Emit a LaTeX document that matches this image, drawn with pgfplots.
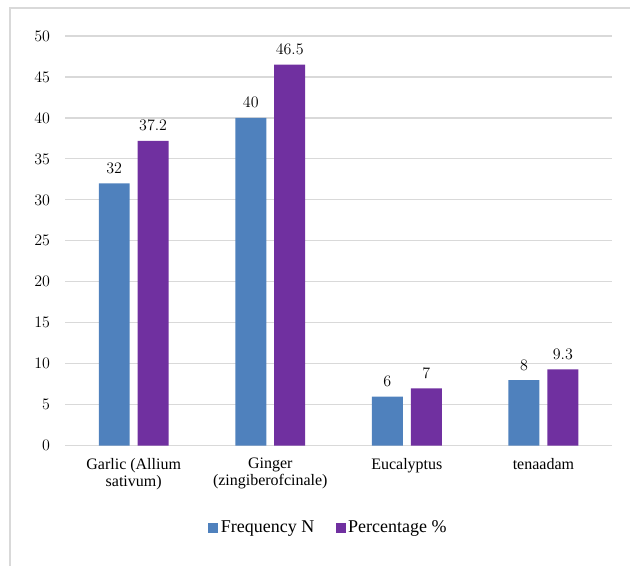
\documentclass[border=0pt]{standalone}
\usepackage{pgfplots}
\pgfplotsset{compat=1.18}
\usepackage{fontspec}
\setmainfont{Liberation Serif}
\usetikzlibrary{calc}
\definecolor{cblue}{HTML}{4F81BD}
\definecolor{cpurple}{HTML}{7030A0}
\definecolor{cgrid}{HTML}{D9D9D9}
\begin{document}
\begin{tikzpicture}
\begin{axis}[
  name=ax,
  anchor=south west,
  at={(0,0)},
  scale only axis,
  width=410pt, height=307.5pt,
  ymin=0, ymax=50, xmin=-0.5, xmax=3.5,
  ytick={0,5,...,50},
  xtick=data,
  xticklabels={{Garlic (Allium\\sativum)},{Ginger\\(zingiberofcinale)},{Eucalyptus},{tenaadam}},
  xticklabel style={align=center, font=\fontsize{12}{12.75}\selectfont, yshift=-6pt},
  yticklabel style={font=\fontsize{12.5}{13}\selectfont, xshift=-8pt},
  major tick length=0pt,
  axis line style={draw=none},
  ymajorgrids,
  grid style={cgrid, line width=0.9pt},
  ybar,
  bar width=23.25pt,
  enlarge x limits=false,
  nodes near coords,
  every node near coord/.append style={font=\fontsize{13}{14}\selectfont, black, yshift=4pt},
  legend style={draw=none, at={(0.482,-0.2)}, anchor=center, legend columns=2,
    font=\fontsize{13.5}{14}\selectfont,
    /tikz/every even column/.append style={column sep=14pt}},
  legend image code/.code={\fill[#1] (0pt,-3.75pt) rectangle (7.5pt,3.75pt);},
  clip=false,
]
\addplot[ybar, fill=cblue, draw=none, bar shift=-14.6pt] coordinates {(0,32) (1,40) (2,6) (3,8)};
\addplot[ybar, fill=cpurple, draw=none, bar shift=14.6pt] coordinates {(0,37.2) (1,46.5) (2,7) (3,9.3)};
\legend{Frequency N, Percentage \%}
\end{axis}
\draw[cgrid, line width=0.8pt] ($(ax.south west)+(-41.6pt,-90pt)$) -- ($(ax.south west)+(-41.6pt,328.5pt)$) -- ($(ax.south west)+(424.1pt,328.5pt)$);
\path[use as bounding box] ($(ax.south west)+(-49.1pt,-86.25pt)$) rectangle ($(ax.south west)+(424.1pt,334.5pt)$);
\end{tikzpicture}
\end{document}
